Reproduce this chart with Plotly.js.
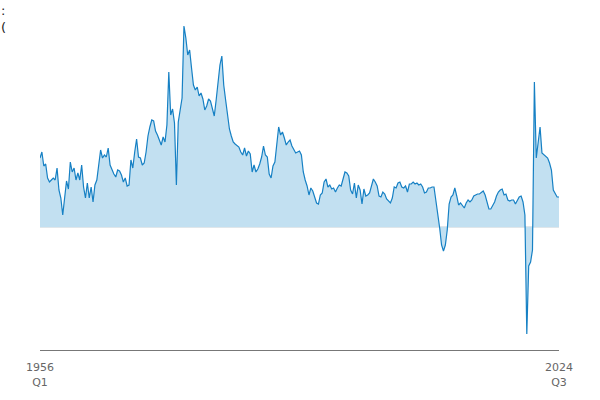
<!DOCTYPE html>
<html>
<head>
<meta charset="utf-8">
<script src="https://cdn.plot.ly/plotly-3.0.1.min.js"></script>
<style>html,body{margin:0;padding:0;background:#fff}#chart{width:600px;height:400px}</style>
</head>
<body>
<div id="chart"></div>
<script>
// Quarterly series, 1956 Q1 – 2024 Q3
var startYear = 1956;
var quarterNames = ["Q1", "Q2", "Q3", "Q4"];
var v1956to1959 = [6.9,7.5,6.1,6.3,4.9,4.5,4.7,4.9,4.7,5.9,3.7,2.9,1.2,3.2,4.6,3.8];
var v1960s = [6.5,5.5,5.9,4.7,5.4,4.7,6.2,4.0,2.9,4.4, 2.9,4.0,2.5,4.2,4.7,6.2,7.7,6.9,7.2,7.0,
              7.9,6.2,5.7,5.3,5.0,5.7,5.6,5.2,4.5,4.9, 4.1,4.2,6.7,5.9,7.5,8.8,7.0,6.9,6.2,6.4];
var v1970s = [7.5,9.1,10.0,10.7,10.6,9.6,9.2,8.7,8.2,9.0, 8.5,10.2,15.5,11.2,11.8,10.4,4.2,10.5,11.9,12.9,
              20.1,18.9,17.2,17.7,15.9,14.2,13.7,14.0,13.1,13.4, 12.8,11.7,12.1,12.8,12.6,11.9,11.1,12.7,14.7,16.2];
var v1980s = [17.1,14.2,12.7,11.1,9.8,9.1,8.5,8.3,8.1,8.0, 7.5,7.2,7.9,7.1,7.6,7.3,5.5,6.2,5.5,5.8,
              6.3,7.0,8.1,7.2,7.0,5.3,4.9,6.1,6.5,8.1, 10.0,9.2,9.5,8.9,8.2,8.5,8.7,8.1,7.7,7.4];
var v1990s = [7.5,7.6,7.2,5.5,4.7,4.1,3.2,3.9,3.6,2.9, 2.4,2.3,3.2,3.4,4.5,4.8,4.0,4.2,3.8,3.9,
              3.5,3.9,4.2,4.1,4.9,5.5,5.4,5.1,3.7,3.3, 4.4,2.9,4.2,3.7,2.3,3.8,3.1,3.2,3.4,4.1];
var v2000s = [4.8,4.5,4.1,3.1,3.0,3.5,3.3,2.8,2.6,2.4, 2.9,4.0,3.9,4.4,4.5,4.0,3.9,4.1,3.5,4.3,
              4.3,4.5,4.3,4.4,4.2,4.3,4.0,3.4,3.5,3.9, 3.9,4.0,4.0,2.7,1.7,-0.1,-1.8,-2.4,-1.8,-0.3];
var v2010s = [2.3,3.0,3.2,3.9,3.1,2.2,2.4,2.1,1.9,2.4, 2.7,2.5,2.7,3.1,3.2,3.3,3.3,3.5,3.6,3.2,
              2.6,1.8,1.8,2.2,2.5,3.1,3.5,3.7,3.8,3.2, 3.3,2.7,2.6,2.7,2.7,2.3,2.7,3.0,3.1,2.5];
var v2020s = [1.2,-10.7,-3.9,-3.5,-2.3,14.5,6.9,8.5,10.0,7.4, 7.2,7.0,6.9,6.4,5.7,3.7,3.4,3.0,3.0];

var firstTickText = "1956<br>Q1";
var lastTickText = "2024<br>Q3";
var topLeftTexts = [":", "("];

var values = [].concat(v1956to1959, v1960s, v1970s, v1980s, v1990s, v2000s, v2010s, v2020s);
var categories = values.map(function (_, i) {
  return (startYear + Math.floor(i / 4)) + " " + quarterNames[i % 4];
});

var trace = {
  x: categories,
  y: values,
  type: "scatter",
  mode: "lines",
  fill: "tozeroy",
  fillcolor: "rgba(194,224,241,1)",
  line: { color: "rgb(22,128,196)", width: 1.2 },
  hoverinfo: "x+y"
};

var layout = {
  width: 600,
  height: 400,
  margin: { l: 40, r: 41, t: 20, b: 50 },
  paper_bgcolor: "#ffffff",
  plot_bgcolor: "#ffffff",
  showlegend: false,
  font: { family: "DejaVu Sans, sans-serif", size: 11, color: "#666666" },
  xaxis: {
    type: "category",
    range: [0, values.length - 1],
    tickmode: "array",
    tickvals: [categories[0], categories[categories.length - 1]],
    ticktext: [firstTickText, lastTickText],
    showgrid: false,
    zeroline: false,
    showline: true,
    linecolor: "#777777",
    linewidth: 1,
    ticks: "",
    ticklabelstandoff: 7,
    tickfont: { family: "DejaVu Sans, sans-serif", size: 11, color: "#666666" }
  },
  yaxis: {
    range: [-12.3, 20.7],
    showgrid: false,
    showticklabels: false,
    zeroline: true,
    zerolinecolor: "#dfe6ea",
    zerolinewidth: 1.5,
    showline: false,
    ticks: ""
  },
  annotations: [
    { text: topLeftTexts[0], xref: "paper", yref: "paper", x: -0.077, y: 1.0303,
      xanchor: "left", yanchor: "middle", showarrow: false, borderpad: 0,
      font: { family: "DejaVu Sans, sans-serif", size: 13, color: "#222222" } },
    { text: topLeftTexts[1], xref: "paper", yref: "paper", x: -0.077, y: 0.9758,
      xanchor: "left", yanchor: "middle", showarrow: false, borderpad: 0,
      font: { family: "DejaVu Sans, sans-serif", size: 13, color: "#222222" } }
  ]
};

Plotly.newPlot("chart", [trace], layout, { displayModeBar: false, staticPlot: true });
</script>
</body>
</html>
